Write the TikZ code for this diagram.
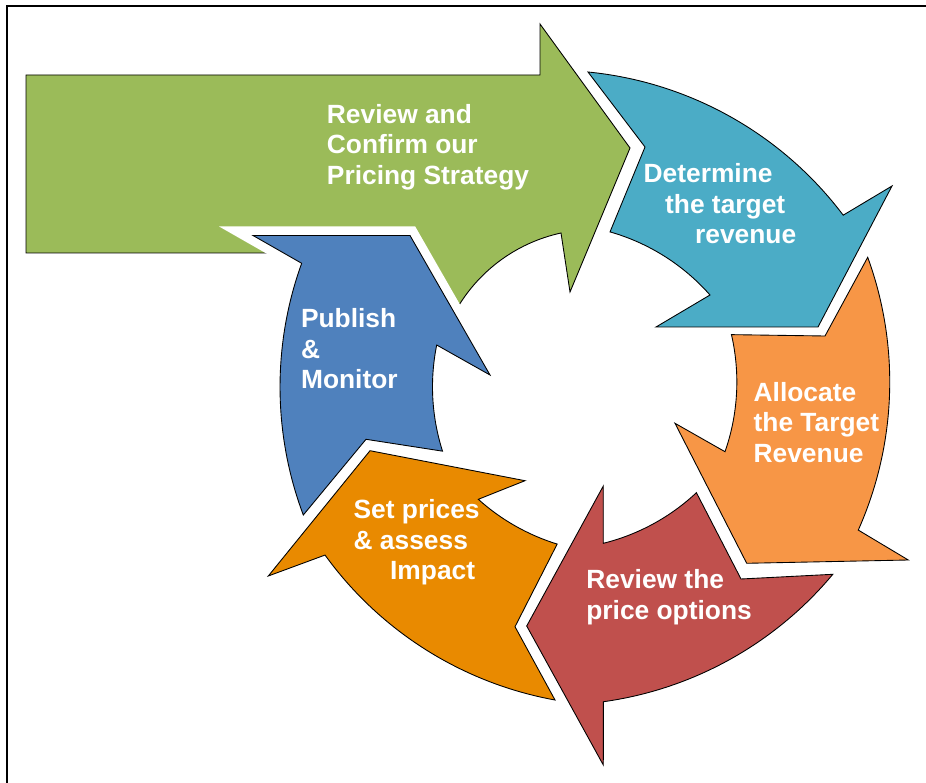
\documentclass[tikz,border=0pt]{standalone}
\usepackage{fontspec}
\setmainfont{Liberation Sans}

\definecolor{stepgreen}{HTML}{9BBB59}
\definecolor{stepteal}{HTML}{4BACC6}
\definecolor{steporange}{HTML}{F79646}
\definecolor{stepred}{HTML}{C0504D}
\definecolor{stepamber}{HTML}{E98A00}
\definecolor{stepblue}{HTML}{4F81BD}

\begin{document}
\begin{tikzpicture}[x=0.02cm, y=0.02cm,
    arrowbody/.style={draw=black, line width=0.5pt},
    gapline/.style={preaction={draw=white, line width=0.36cm}},
    steptext/.style={text=white, font=\fontsize{15}{17.4}\selectfont\bfseries,
      align=left, anchor=north west, inner sep=0pt}]

    \useasboundingbox (0,0) rectangle (926,-783);

    % Frame
    \draw[line width=1.1pt] (7,-783) -- (7,-6) -- (926,-6);

    % Big green arrow
    \filldraw[fill=stepgreen, arrowbody]
      (26,-75) -- (540,-75) -- (540,-24) -- (630,-148) -- (570,-292) -- (561,-233)
      arc[start angle=102.3, end angle=152, radius=160]
      -- (380,-253) -- (26,-253) -- cycle;

    % Circle arrows
    \filldraw[fill=stepblue, arrowbody, gapline]
      (303.3,-515) arc[start angle=200.6, end angle=160.14, radius=364]
      -- (253,-235.5) -- (410,-235.5) -- (490,-375) -- (436.7,-345)
      arc[start angle=168.55, end angle=197.74, radius=211]
      -- (366,-439.3) -- cycle;

    \filldraw[fill=stepteal, arrowbody]
      (588,-72) arc[start angle=84.4, end angle=37.0, radius=364]
      -- (892,-186) -- (818,-327) -- (656,-327) -- (710,-295)
      arc[start angle=41.4, end angle=74.1, radius=210]
      -- (645,-147) -- cycle;

    \filldraw[fill=steporange, arrowbody]
      (867.7,-257.3) arc[start angle=20.04, end angle=-24.0, radius=364]
      -- (908.3,-560) -- (746.7,-563.3) -- (675,-423.3) -- (725,-451.7)
      arc[start angle=-19.28, end angle=12.98, radius=211]
      -- (825,-336) -- cycle;

    \filldraw[fill=stepred, arrowbody]
      (832.8,-574.3) arc[start angle=-39.82, end angle=-82.09, radius=364]
      -- (603.3,-765) -- (526.7,-626) -- (603.3,-486) -- (603.3,-543.3)
      arc[start angle=-76.08, end angle=-46.85, radius=210]
      -- (741,-579) -- cycle;

    \filldraw[fill=stepamber, arrowbody]
      (555,-700) arc[start angle=-100.3, end angle=-144.15, radius=364]
      -- (268.3,-576) -- (370,-450.7) -- (525,-480.7) -- (478.3,-499.3)
      arc[start angle=-132.0, end angle=-107.18, radius=211]
      -- (515,-626.7) -- cycle;

    % Labels
    \node[steptext] (review) at (326.6,-103.9) {Review and\\Confirm our\\Pricing Strategy};
    \node[steptext] (target) at (643.3,-163.3) {Determine\\\hspace*{0.43cm}the target\\\hspace*{1.03cm}revenue};
    \node[steptext] (allocate) at (753.3,-381.7) {Allocate\\the Target\\Revenue};
    \node[steptext] (options) at (586,-569.3) {Review the\\price options};
    \node[steptext] (setprices) at (353.3,-499.3) {Set prices\\\& assess\\\hspace*{0.73cm}Impact};
    \node[steptext] (publish) at (300.7,-308.3) {Publish\\\&\\Monitor};

\end{tikzpicture}
\end{document}
